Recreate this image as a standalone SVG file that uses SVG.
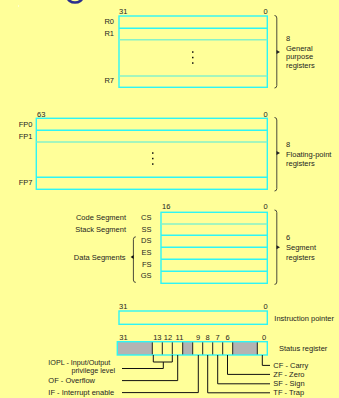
<svg xmlns="http://www.w3.org/2000/svg" width="339" height="398" viewBox="0 0 339 398">
<style>
text{font-family:"Liberation Sans",Arial,sans-serif;font-size:7.5px;fill:#1e1e1e}
.box{fill:none;stroke:#2ef5f5;stroke-width:1.4}
.row{stroke:#2ef5f5;stroke-width:1.4}
.row2{stroke:#86f2c8;stroke-width:1.6}
.brace{fill:none;stroke:#4a4a3a;stroke-width:1}
.lead{fill:none;stroke:#111;stroke-width:1}
.div{stroke:#222;stroke-width:1}
.dot{fill:#111}
.e{text-anchor:end}
.sm{font-size:7.2px}
</style>
<rect width="339" height="398" fill="#ffff99"/>
<ellipse cx="75" cy="-3" rx="7.5" ry="5.5" fill="none" stroke="#2b2f8f" stroke-width="2.6"/>
<rect x="18" y="5.5" width="1" height="1" fill="#fff"/>

<g id="gpr">
<rect class="box" x="119" y="16" width="148.3" height="71.3"/>
<line class="row" x1="119" y1="28.3" x2="267.3" y2="28.3"/>
<line class="row2" x1="119" y1="39.7" x2="267.3" y2="39.7"/>
<line class="row2" x1="119" y1="76" x2="267.3" y2="76"/>
<rect class="dot" x="192" y="51.3" width="1.5" height="1.5"/>
<rect class="dot" x="192" y="56.8" width="1.5" height="1.5"/>
<rect class="dot" x="192" y="62.3" width="1.5" height="1.5"/>
<text x="119" y="14">31</text>
<text x="263.5" y="14">0</text>
<text class="e" x="114" y="24">R0</text>
<text class="e" x="114" y="36">R1</text>
<text class="e" x="114" y="83">R7</text>
<path class="brace" d="M274.5,15.5 Q276.8,15.5 276.8,18 L276.8,85.5 Q276.8,88 274.5,88"/>
<path d="M276.5,50 L280,52 L276.5,54 Z" fill="#222"/>
<text x="286" y="41">8</text>
<text x="286" y="50.7">General</text>
<text x="286" y="59.4">purpose</text>
<text x="286" y="68.1">registers</text>
</g>

<g id="fpr">
<rect class="box" x="36.3" y="118.3" width="231" height="71"/>
<line class="row" x1="36.3" y1="130.3" x2="267.3" y2="130.3"/>
<line class="row2" x1="36.3" y1="142" x2="267.3" y2="142"/>
<line class="row" x1="36.3" y1="177.3" x2="267.3" y2="177.3"/>
<rect class="dot" x="152" y="152.3" width="1.5" height="1.5"/>
<rect class="dot" x="152" y="157.8" width="1.5" height="1.5"/>
<rect class="dot" x="152" y="163.3" width="1.5" height="1.5"/>
<text x="37" y="116.7">63</text>
<text x="263.5" y="116.7">0</text>
<text class="e" x="32.5" y="127">FP0</text>
<text class="e" x="32.5" y="138.7">FP1</text>
<text class="e" x="32.5" y="185.4">FP7</text>
<path class="brace" d="M274.5,117.5 Q276.8,117.5 276.8,120 L276.8,188.5 Q276.8,191 274.5,191"/>
<path d="M276.5,151 L280,153 L276.5,155 Z" fill="#222"/>
<text x="286" y="146.7">8</text>
<text x="286" y="156.5">Floating-point</text>
<text x="286" y="165.7">registers</text>
</g>

<g id="seg">
<rect class="box" x="161" y="212.3" width="106.3" height="71"/>
<line class="row2" x1="161" y1="224" x2="267.3" y2="224"/>
<line class="row" x1="161" y1="235.3" x2="267.3" y2="235.3"/>
<line class="row" x1="161" y1="247.3" x2="267.3" y2="247.3"/>
<line class="row" x1="161" y1="259.3" x2="267.3" y2="259.3"/>
<line class="row" x1="161" y1="271.3" x2="267.3" y2="271.3"/>
<text x="162" y="208.8">16</text>
<text x="263.5" y="208.8">0</text>
<text class="e" x="151.5" y="220.4">CS</text>
<text class="e" x="151.5" y="231.8">SS</text>
<text class="e" x="151.5" y="242.8">DS</text>
<text class="e" x="151.5" y="255">ES</text>
<text class="e" x="151.5" y="267">FS</text>
<text class="e" x="151.5" y="277.8">GS</text>
<text class="e" x="126" y="220.4">Code Segment</text>
<text class="e" x="126" y="231.8">Stack Segment</text>
<text class="e" x="125.5" y="260.2">Data Segments</text>
<path class="brace" d="M135.8,236.8 Q133.4,236.8 133.4,239.3 L133.4,280 Q133.4,282.4 135.8,282.4" stroke="#111"/>
<path d="M133.6,255 L130.6,257 L133.6,259 Z" fill="#111"/>
<path class="brace" d="M274.5,210 Q276.8,210 276.8,212.5 L276.8,282 Q276.8,284.4 274.5,284.4"/>
<path d="M276.5,245.3 L280,247.3 L276.5,249.3 Z" fill="#222"/>
<text x="286" y="240.4">6</text>
<text x="286" y="250">Segment</text>
<text x="286" y="259.5">registers</text>
</g>

<g id="ip">
<rect class="box" x="119" y="311" width="148.3" height="13.3"/>
<text x="119" y="308.7">31</text>
<text x="263.5" y="308.7">0</text>
<text x="274.3" y="321">Instruction pointer</text>
</g>

<g id="flags">
<rect x="117.3" y="341.7" width="35" height="13.3" fill="#b3b3b3"/>
<rect x="182.7" y="341.7" width="10" height="13.3" fill="#b3b3b3"/>
<rect x="232.7" y="341.7" width="24.6" height="13.3" fill="#b3b3b3"/>
<line class="div" x1="152.3" y1="341.7" x2="152.3" y2="355"/>
<line class="div" x1="162.3" y1="341.7" x2="162.3" y2="355" stroke="#777"/>
<line class="div" x1="172.3" y1="341.7" x2="172.3" y2="355"/>
<line class="div" x1="182.7" y1="341.7" x2="182.7" y2="355"/>
<line class="div" x1="192.7" y1="341.7" x2="192.7" y2="355" stroke="#888"/>
<line class="div" x1="202.7" y1="341.7" x2="202.7" y2="355"/>
<line class="div" x1="212.7" y1="341.7" x2="212.7" y2="355"/>
<line class="div" x1="222.7" y1="341.7" x2="222.7" y2="355"/>
<line class="div" x1="232.7" y1="341.7" x2="232.7" y2="355"/>
<line class="div" x1="257.3" y1="341.7" x2="257.3" y2="355"/>
<rect class="box" x="117.3" y="341.7" width="150" height="13.3"/>
<text x="119.3" y="339.8">31</text>
<text x="157.3" y="339.8" text-anchor="middle">13</text>
<text x="168" y="339.8" text-anchor="middle">12</text>
<text x="179.5" y="339.8" text-anchor="middle">11</text>
<text x="198" y="339.8" text-anchor="middle">9</text>
<text x="207.7" y="339.8" text-anchor="middle">8</text>
<text x="217.7" y="339.8" text-anchor="middle">7</text>
<text x="227.7" y="339.8" text-anchor="middle">6</text>
<text x="264" y="339.8" text-anchor="middle">0</text>
<text x="279" y="351">Status register</text>
<text class="sm" x="48.3" y="364.8">IOPL - Input/Output</text>
<text class="e sm" x="115" y="372.6">privilege level</text>
<text x="48.3" y="383.3">OF - Overflow</text>
<text x="48.3" y="395.3">IF - Interrupt enable</text>
<text x="273.3" y="368">CF - Carry</text>
<text x="273.3" y="377">ZF - Zero</text>
<text x="273.3" y="386.4">SF - Sign</text>
<text x="273.3" y="395.4">TF - Trap</text>
</g>

<g id="connectors">
<path class="lead" d="M153.3,355 V362 H172.3 V355"/>
<path class="lead" d="M163.3,362 V368.5 H122"/>
<path class="lead" d="M177.7,355 V380.6 H122"/>
<path class="lead" d="M198.3,355 V392.6 H122"/>
<path class="lead" d="M207.7,355 V392.8 H270"/>
<path class="lead" d="M217.7,355 V383.8 H270"/>
<path class="lead" d="M227.5,355 V374.4 H270"/>
<path class="lead" d="M262.3,355 V365.4 H270"/>
</g>
</svg>
